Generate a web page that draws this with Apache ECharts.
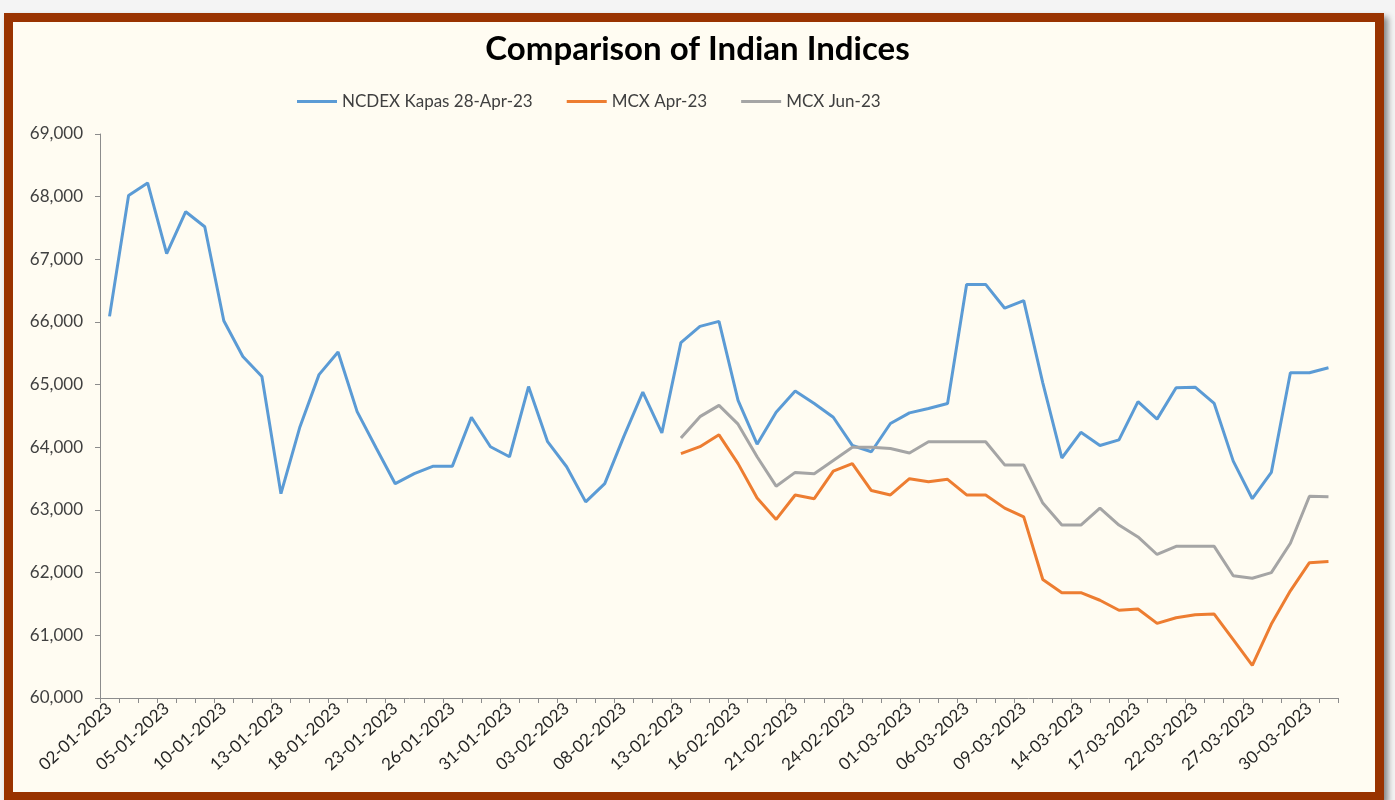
<!DOCTYPE html>
<html>
<head>
<meta charset="utf-8">
<title>Comparison of Indian Indices</title>
<script src="https://cdn.jsdelivr.net/npm/echarts@6/dist/echarts.min.js"></script>
<style>
    html, body { margin: 0; padding: 0; background: #f4f4f4; }
    #frame {
        position: absolute; left: 4px; top: 13px; width: 1362px; height: 770px;
        border: 9px solid #993300; background: #fffcf2;
        box-shadow: 4px 4px 6px rgba(0, 0, 0, 0.45);
    }
    #chart { position: absolute; left: 0; top: 0; width: 1395px; height: 800px; }
</style>
</head>
<body>
<div id="frame"></div>
<div id="chart"></div>
<script>
// trading days, Jan - Mar 2023
var dates = [
    '02-01-2023','03-01-2023','04-01-2023','05-01-2023','06-01-2023','09-01-2023','10-01-2023','11-01-2023','12-01-2023','13-01-2023',
    '16-01-2023','17-01-2023','18-01-2023','19-01-2023','20-01-2023','23-01-2023','24-01-2023','25-01-2023','26-01-2023','27-01-2023',
    '30-01-2023','31-01-2023','01-02-2023','02-02-2023','03-02-2023','06-02-2023','07-02-2023','08-02-2023','09-02-2023','10-02-2023',
    '13-02-2023','14-02-2023','15-02-2023','16-02-2023','17-02-2023','20-02-2023','21-02-2023','22-02-2023','23-02-2023','24-02-2023',
    '27-02-2023','28-02-2023','01-03-2023','02-03-2023','03-03-2023','06-03-2023','07-03-2023','08-03-2023','09-03-2023','10-03-2023',
    '13-03-2023','14-03-2023','15-03-2023','16-03-2023','17-03-2023','20-03-2023','21-03-2023','22-03-2023','23-03-2023','24-03-2023',
    '27-03-2023','28-03-2023','29-03-2023','30-03-2023','31-03-2023'
];

var ncdexKapas = [
    66090, 68020, 68220, 67090, 67760, 67520, 66020, 65450, 65130, 63260,
    64330, 65160, 65520, 64570, 63990, 63420, 63580, 63700, 63700, 64480,
    64010, 63850, 64970, 64090, 63690, 63130, 63420, 64170, 64880, 64230,
    65670, 65930, 66010, 64750, 64050, 64560, 64900, 64700, 64480, 64030,
    63930, 64380, 64550, 64620, 64700, 66600, 66600, 66220, 66340, 65030,
    63830, 64240, 64030, 64120, 64730, 64450, 64950, 64960, 64700, 63780,
    63180, 63600, 65190, 65190, 65270
];

// MCX contracts only start on 13-02-2023
var mcxApr = [
    null, null, null, null, null, null, null, null, null, null,
    null, null, null, null, null, null, null, null, null, null,
    null, null, null, null, null, null, null, null, null, null,
    63900, 64010, 64200, 63740, 63190, 62850, 63240, 63180, 63620, 63740,
    63310, 63240, 63500, 63450, 63490, 63240, 63240, 63030, 62890, 61890,
    61680, 61680, 61560, 61400, 61420, 61190, 61280, 61330, 61340, 60930,
    60520, 61180, 61710, 62160, 62180
];

var mcxJun = [
    null, null, null, null, null, null, null, null, null, null,
    null, null, null, null, null, null, null, null, null, null,
    null, null, null, null, null, null, null, null, null, null,
    64150, 64490, 64670, 64370, 63850, 63380, 63600, 63580, 63790, 64000,
    64000, 63980, 63910, 64090, 64090, 64090, 64090, 63720, 63720, 63110,
    62760, 62760, 63030, 62760, 62570, 62290, 62420, 62420, 62420, 61950,
    61910, 62000, 62470, 63220, 63210
];

var seriesNames = ['NCDEX Kapas 28-Apr-23', 'MCX Apr-23', 'MCX Jun-23'];
var seriesColors = ['#5b9bd5', '#ed7d31', '#a5a5a5'];

var fontName = 'Lato';

function addCommas(v) {
    return String(v).replace(/\B(?=(\d{3})+(?!\d))/g, ',');
}

function lineSeries(name, data, color) {
    return {
        name: name,
        type: 'line',
        data: data,
        symbol: 'none',
        connectNulls: false,
        lineStyle: { color: color, width: 3 },
        itemStyle: { color: color }
    };
}

var chart = echarts.init(document.getElementById('chart'));
chart.setOption({
    animation: false,
    backgroundColor: 'transparent',
    textStyle: { fontFamily: fontName },
    title: {
        text: 'Comparison of Indian Indices',
        left: 'center',
        top: 28,
        textStyle: { fontFamily: fontName, fontSize: 33, fontWeight: 'bold', color: '#000' }
    },
    legend: {
        left: 292,
        top: 88,
        icon: 'rect',
        itemWidth: 40,
        itemHeight: 3,
        itemGap: 34,
        data: seriesNames,
        textStyle: { fontFamily: fontName, fontSize: 17, color: '#404040' }
    },
    grid: { left: 100, right: 57, top: 134, bottom: 102 },
    xAxis: {
        type: 'category',
        data: dates,
        boundaryGap: true,
        axisLine: { lineStyle: { color: '#8c8c8c', width: 1 } },
        axisTick: { show: true, interval: 0, length: 5, lineStyle: { color: '#8c8c8c' } },
        axisLabel: {
            interval: 2,
            rotate: 42,
            margin: 8,
            fontFamily: fontName,
            fontSize: 17,
            color: '#262626'
        },
        splitLine: { show: false }
    },
    yAxis: {
        type: 'value',
        min: 60000,
        max: 69000,
        interval: 1000,
        axisLine: { show: true, lineStyle: { color: '#8c8c8c', width: 1 } },
        axisTick: { show: true, length: 5, lineStyle: { color: '#8c8c8c' } },
        axisLabel: {
            margin: 17,
            fontFamily: fontName,
            fontSize: 17,
            color: '#404040',
            formatter: addCommas
        },
        splitLine: { show: false }
    },
    series: [
        lineSeries(seriesNames[0], ncdexKapas, seriesColors[0]),
        lineSeries(seriesNames[1], mcxApr, seriesColors[1]),
        lineSeries(seriesNames[2], mcxJun, seriesColors[2])
    ]
});
</script>
</body>
</html>
